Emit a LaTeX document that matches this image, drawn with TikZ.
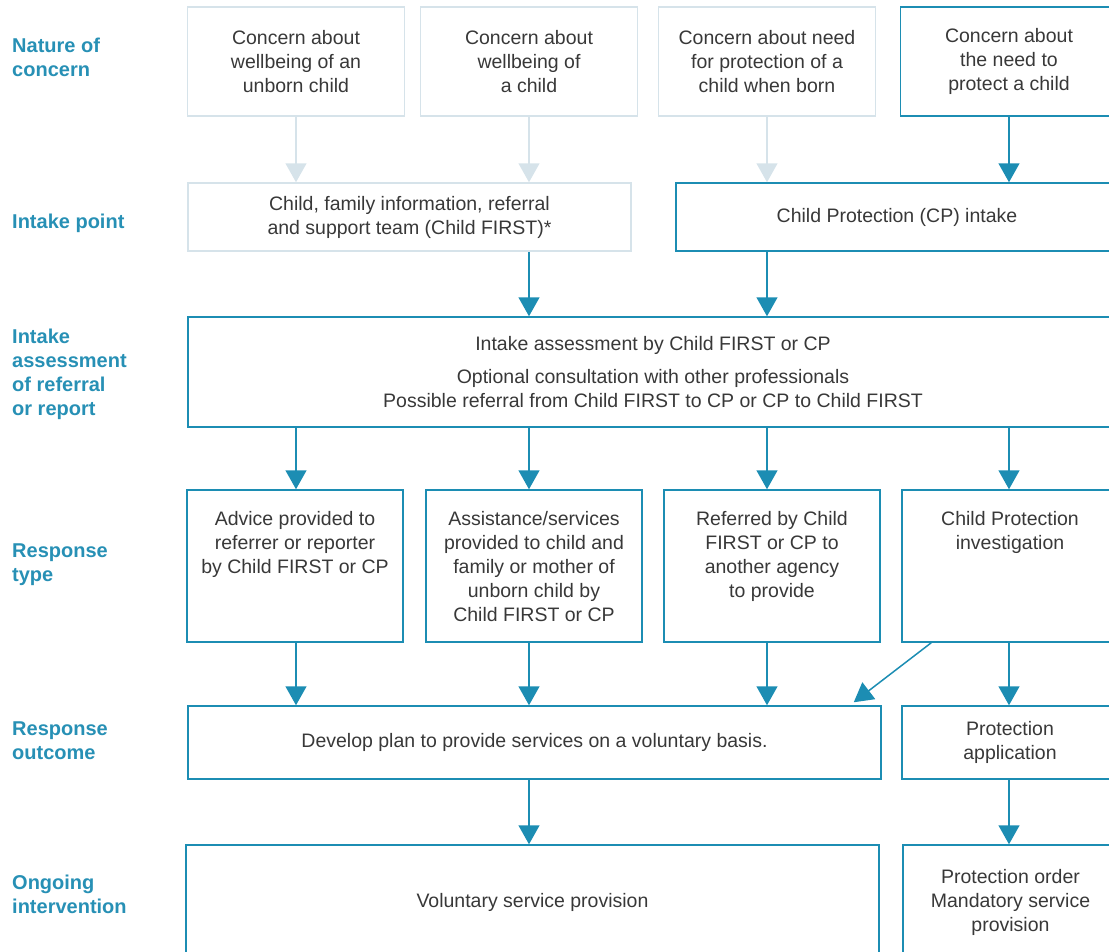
\documentclass[tikz,border=0pt]{standalone}
\usepackage{fontspec}
\setmainfont{Liberation Sans}
\usetikzlibrary{arrows.meta}

\definecolor{cpblue}{HTML}{1C8DB3}
\definecolor{cplight}{HTML}{D6E3EA}
\definecolor{cptext}{HTML}{383838}
\definecolor{cplabel}{HTML}{2790B5}
\newcommand{\boxfont}{\fontsize{19.5}{24}\selectfont}
\newcommand{\rowfont}{\fontsize{20}{24}\selectfont\bfseries}

\tikzset{
  box/.style={draw=cpblue, line width=1.5pt, inner sep=0pt, align=center,
    text=cptext, font=\boxfont},
  lightbox/.style={box, draw=cplight},
  respbox/.style={box, minimum width=216pt, minimum height=152pt},
  resptext/.style={anchor=north, inner sep=0pt, yshift=-22pt, align=center,
    text=cptext, font=\boxfont},
  rowlabel/.style={anchor=base west, inner sep=0pt, align=left,
    text=cplabel, font=\rowfont},
  flow/.style={draw=cpblue, line width=1.5pt, -{Triangle[length=19pt,width=21pt]}},
  lightflow/.style={flow, draw=cplight}
}

\begin{document}
\begin{tikzpicture}[x=1pt, y=-1pt]
        \useasboundingbox (0,0) rectangle (1109,951);
        \clip (0,0) rectangle (1109,951);

        % Row labels (placed at the baseline of their last line)
        \node[rowlabel] (lnature) at (12,76) {Nature of\\concern};
        \node[rowlabel] (lintake) at (12,228) {Intake point};
        \node[rowlabel] (lassess) at (12,415) {Intake\\assessment\\of referral\\or report};
        \node[rowlabel] (ltype) at (12,581) {Response\\type};
        \node[rowlabel] (loutcome) at (12,759) {Response\\outcome};
        \node[rowlabel] (longoing) at (12,913) {Ongoing\\intervention};

        % Nature of concern
        \node[lightbox, minimum width=217pt, minimum height=109pt] (c1) at (296,61.5) {Concern about\\wellbeing of an\\unborn child};
        \node[lightbox, minimum width=217pt, minimum height=109pt] (c2) at (529,61.5) {Concern about\\wellbeing of\\a child};
        \node[lightbox, minimum width=217pt, minimum height=109pt] (c3) at (767,61.5) {Concern about need\\for protection of a\\child when born};
        \node[box, minimum width=217pt, minimum height=109pt] (c4) at (1009,61.5) {Concern about\\the need to\\protect a child};

        % Intake point
        \node[lightbox, minimum width=443pt, minimum height=68pt] (first) at (409.5,217) {Child, family information, referral\\and support team (Child FIRST)*};
        \node[box, minimum width=442pt, minimum height=68pt] (cpin) at (897,217) {Child Protection (CP) intake};
        \draw[lightflow] (c1.south) -- (c1.south |- first.north);
        \draw[lightflow] (c2.south) -- (c2.south |- first.north);
        \draw[lightflow] (c3.south) -- (c3.south |- cpin.north);
        \draw[flow] (c4.south) -- (c4.south |- cpin.north);

        % Intake assessment
        \node[box, minimum width=930pt, minimum height=110pt] (assess) at (653,372) {Intake assessment by Child FIRST or CP\\[9pt]Optional consultation with other professionals\\Possible referral from Child FIRST to CP or CP to Child FIRST};
        \draw[flow] (first.south -| c2.south) -- (c2.south |- assess.north);
        \draw[flow] (cpin.south -| c3.south) -- (c3.south |- assess.north);

        % Response type
        \node[respbox, label={[resptext]north:{Advice provided to\\referrer or reporter\\by Child FIRST or CP}}] (advice) at (295,566) {};
        \node[respbox, label={[resptext]north:{Assistance/services\\provided to child and\\family or mother of\\unborn child by\\Child FIRST or CP}}] (assist) at (534,566) {};
        \node[respbox, label={[resptext]north:{Referred by Child\\FIRST or CP to\\another agency\\to provide}}] (referred) at (772,566) {};
        \node[respbox, label={[resptext]north:{Child Protection\\investigation}}] (invest) at (1010,566) {};
        \foreach \c/\r in {c1/advice, c2/assist, c3/referred, c4/invest}
            \draw[flow] (assess.south -| \c.south) -- (\r.north -| \c.south);

        % Response outcome
        \node[box, minimum width=693pt, minimum height=73pt] (plan) at (534.5,742.5) {Develop plan to provide services on a voluntary basis.};
        \node[box, minimum width=216pt, minimum height=73pt] (papp) at (1010,742.5) {Protection\\application};
        \foreach \c/\r in {c1/advice, c2/assist, c3/referred}
            \draw[flow] (\r.south -| \c.south) -- (plan.north -| \c.south);
        \draw[flow] ([xshift=30pt]invest.south west) -- ([xshift=-28pt,yshift=3pt]plan.north east);
        \draw[flow] (invest.south -| c4.south) -- (papp.north -| c4.south);

        % Ongoing intervention
        \node[box, minimum width=693pt, minimum height=115pt] (volun) at (532.5,902.5) {Voluntary service provision};
        \node[box, minimum width=215pt, minimum height=115pt] (porder) at (1010.5,902.5) {\fontsize{19.5}{26.5}\selectfont Protection order\\Mandatory service\\provision};
        \draw[flow] (plan.south -| c2.south) -- (volun.north -| c2.south);
        \draw[flow] (papp.south -| c4.south) -- (porder.north -| c4.south);
    \end{tikzpicture}
\end{document}
